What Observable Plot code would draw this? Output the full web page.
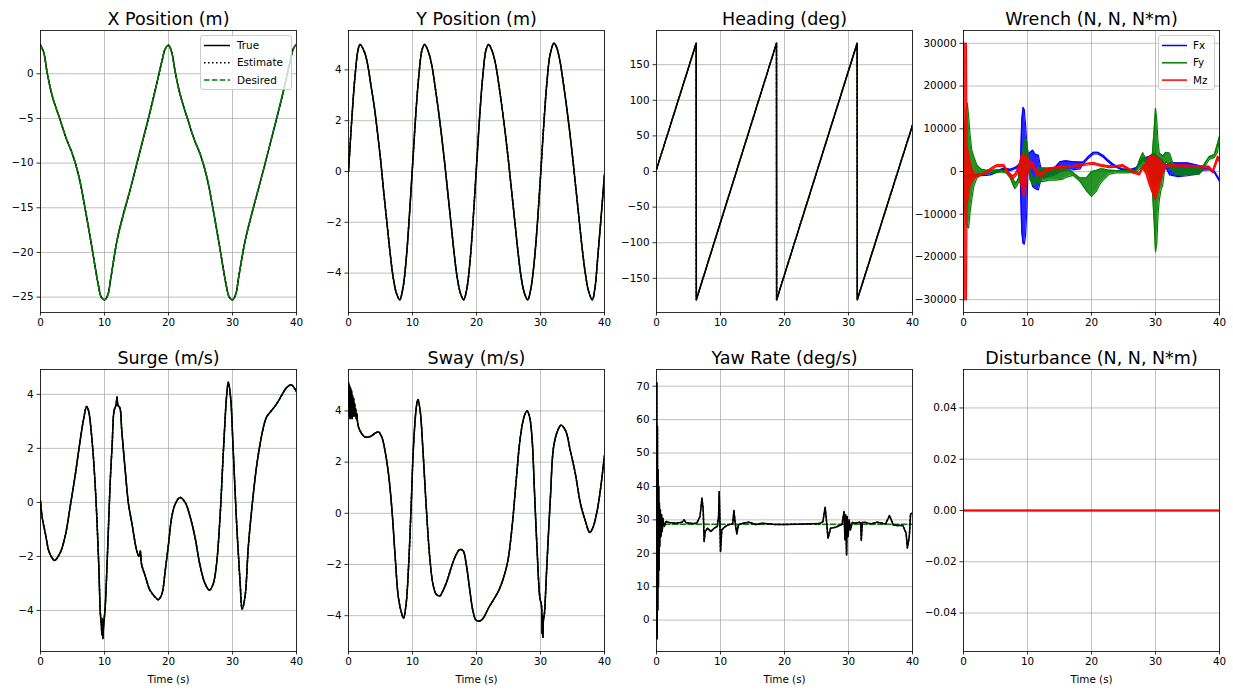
<!DOCTYPE html>
<html>
<head>
<meta charset="utf-8">
<script src="https://cdn.jsdelivr.net/npm/d3@7"></script>
<script src="https://cdn.jsdelivr.net/npm/@observablehq/plot@0.6"></script>
<style>
  html, body { margin: 0; padding: 0; background: #ffffff; }
  #wrap { position: relative; width: 1233px; height: 691px; overflow: hidden; background: #ffffff; }
  #wrap > svg { position: absolute; }
</style>
</head>
<body>
<div id="wrap"></div>
<script>
// ---------------- data ----------------
const timeTicks = [0, 10, 20, 30, 40];

// X Position (m)
const xPosT = [0,0.5,1,1.5,2,3,4,5,6,7,8,9,9.5,10,10.5,11,12,13,14,15,16,17,18,19,19.5,20,20.5,21,21.5,22,23,24,25,26,27,28,29,29.5,30,30.5,31,32,33,34,35,36,37,38,39,39.5,40];
const xPosV = [3.2,2.4,0.3,-1.5,-2.9,-5.0,-7.2,-9.0,-11.5,-15.2,-19.3,-23.5,-25.0,-25.3,-24.8,-22.8,-18.5,-15.6,-13.0,-10.2,-7.4,-4.6,-1.6,1.5,2.8,3.2,2.4,0.4,-1.4,-2.8,-5.1,-7.3,-9.1,-11.6,-15.3,-19.4,-23.6,-25.0,-25.3,-24.7,-22.6,-18.6,-15.7,-13.0,-10.3,-7.5,-4.7,-1.8,1.4,2.8,3.3];
const xPosTicks = [-25, -20, -15, -10, -5, 0];

// Y Position (m)
const yPosT = [0,0.5,1,1.5,1.8,2.5,3,3.5,4,4.5,5,5.5,6,6.5,7,7.5,8,8.5,9,9.5,10,10.5,11,11.5,11.9,12.5,13,13.5,14,14.5,15,15.5,16,16.5,17,17.5,18,18.5,19,19.5,20,20.5,21,21.5,21.9,22.5,23,23.5,24,24.5,25,25.5,26,26.5,27,27.5,28,28.5,29,29.5,30,30.5,31,31.5,32.1,32.5,33,33.5,34,34.5,35,35.5,36,36.5,37,37.5,38.1,38.5,39,39.5,40];
const yPosV = [0,2.0,3.7,4.8,5.0,4.7,4.2,3.4,2.6,1.6,0.5,-0.8,-2.0,-3.2,-4.2,-4.8,-5.05,-4.6,-3.5,-1.8,0.2,2.2,3.8,4.8,5.0,4.7,4.2,3.4,2.5,1.5,0.4,-0.8,-2.0,-3.2,-4.2,-4.8,-5.05,-4.6,-3.5,-1.8,0.2,2.2,3.8,4.8,5.0,4.7,4.2,3.4,2.5,1.5,0.4,-0.8,-2.0,-3.2,-4.2,-4.8,-5.05,-4.6,-3.6,-2.1,-0.2,1.8,3.5,4.6,5.05,4.9,4.4,3.6,2.7,1.7,0.6,-0.6,-1.8,-3.0,-4.0,-4.7,-5.05,-4.6,-3.2,-1.7,-0.1];
const yPosTicks = [-4, -2, 0, 2, 4];

// Heading (deg)
const headT = [0, 6.2, 6.22, 18.75, 18.77, 31.35, 31.37, 40];
const headV = [3, 180, -180, 180, -180, 180, -180, 65];
const headTicks = [-150, -100, -50, 0, 50, 100, 150];

// Wrench (N, N, N*m): envelopes (low / high) of the oscillating signals
const fxT  = [0,0.3,0.6,1.0,1.6,2.5,3.5,4.2,5.2,6.3,7.3,8.0,8.4,8.9,9.1,9.3,9.5,9.7,9.9,10.1,10.4,10.8,11.2,11.7,12.2,12.6,13.0,14.0,15.1,16.0,17.0,18.2,18.7,19.5,20.3,21.0,21.8,22.5,23.3,24.1,24.9,25.9,27.0,28.0,29.0,29.3,29.8,30.3,30.8,31.1,31.6,32.2,33.5,35.0,36.8,37.4,38.4,39.2,40];
const fxLo = [-1500,-1600,-1400,-1200,-1100,-1000,-900,-800,-200,500,200,600,900,-3000,-14000,-16800,-17000,-15000,-9000,2000,-1000,-3500,-4000,-4300,-1200,-1500,-1200,-1000,0,300,400,600,1800,3100,4100,4100,3400,2400,1400,800,300,0,600,2600,1500,-2000,-3500,-3000,-2000,-500,1000,-800,-1200,-1000,-500,300,400,-300,-2300];
const fxHi = [-900,-1000,-900,-800,-700,-600,-500,-400,100,800,500,900,1300,2000,12000,15000,14500,11000,6000,4000,4500,5000,4000,3800,0,800,500,500,2300,2500,2300,2200,2200,3500,4500,4500,3800,2800,1800,1100,600,400,900,3100,3500,3800,4300,3500,3000,2500,1400,2000,2000,2000,1400,700,800,100,-1900];

const fyT  = [0,0.2,0.4,0.6,0.8,1.0,1.3,1.6,2.1,2.8,3.6,4.5,5.2,6.0,6.7,7.3,7.7,8.0,8.3,8.6,9.1,9.4,9.7,9.9,10.1,10.4,10.8,11.2,11.7,12.5,13.5,14.5,15.5,16.1,17.1,18.2,19.2,20.0,20.8,21.3,21.8,22.8,24.0,25.5,27.0,27.5,28.0,28.5,29.0,29.5,29.8,30.0,30.2,30.4,30.6,30.9,31.1,31.6,32.2,32.7,33.5,35.0,36.8,37.4,38.4,39.2,39.7,40];
const fyLo = [-3000,-8000,-12000,-13000,-13200,-10000,-6500,-3500,-1500,-700,-500,-300,-200,-100,-400,-1500,-3000,-4000,-3500,-2500,-1500,-500,0,2000,1500,-2000,-3000,-3200,-2500,-2300,-2000,-2000,-1800,-1300,-900,-2300,-4500,-5800,-4500,-3000,-2000,-600,-300,-300,-200,500,1000,300,-1000,-4000,-12000,-18800,-17000,-10000,-6600,-4000,-3500,2500,1000,0,-800,-800,-700,500,2800,3300,4500,8000];
const fyHi = [3000,10000,14000,16000,13000,9000,5000,3500,1500,500,300,300,400,300,100,-700,-1500,-2500,-2500,-1500,3000,6000,7800,7000,4000,0,-1500,-1800,1000,800,800,800,700,600,-200,-1500,-1500,0,300,600,600,300,200,200,200,2700,4400,3000,2500,4000,10000,14800,12000,7000,4300,4000,3500,4500,4300,2000,1000,800,800,1200,3500,4000,6600,8300];

const mzT  = [0,0.45,0.55,0.8,1.0,1.5,2.0,2.6,3.5,4.5,5.2,6.3,7.0,7.6,8.1,8.6,9.1,9.4,9.7,9.9,10.2,10.7,11.5,12.2,13.0,15.1,17.2,18.7,20.3,21.5,22.8,24.0,24.9,26.0,26.5,27.5,28.0,28.5,29.0,29.5,30.0,30.5,31.0,31.6,32.7,35.0,38.4,38.9,39.3,39.7,40];
const mzLo = [-30000,-30000,-8000,-5000,-3500,-1800,-1200,-1000,-500,600,1200,1200,-800,-1800,-1200,0,-4000,-5800,-4000,-2000,500,1200,-800,-1200,200,800,1000,1400,1700,1200,900,1000,1200,200,-400,-800,700,-500,-3000,-5000,-6600,-4000,-1000,1000,1100,1100,800,-300,1000,2800,2300];
const mzHi = [30000,30000,6000,4000,2500,-200,-800,-700,-100,1000,1600,1600,0,-1000,-500,1200,4000,4300,3000,3500,2500,2200,200,-400,700,1200,1400,1800,2100,1600,1300,1400,1600,600,0,-300,1200,1800,3500,3500,3500,3000,2000,1500,1500,1500,1200,100,1800,3600,3000];
const wrenchTicks = [-30000, -20000, -10000, 0, 10000, 20000, 30000];

// Surge (m/s)
const surgeT = [0,0.26,0.8,1.3,1.8,2.2,3.1,3.9,4.7,5.45,6.2,6.75,7.2,7.5,8.05,8.6,9.1,9.35,9.5,9.6,9.7,9.75,9.85,10.1,10.4,10.9,11.2,11.5,11.8,11.95,12.1,12.4,12.7,13.25,13.75,14.3,15.05,15.4,15.6,15.8,16.4,17.1,17.9,18.4,18.95,19.5,20.0,20.5,21.05,21.8,22.6,23.4,24.15,24.9,25.7,26.4,27.0,27.5,28.05,28.6,29.1,29.35,29.7,30.1,30.65,31.2,31.5,31.95,32.5,33.25,33.8,34.3,34.8,35.3,36.1,36.9,37.65,38.45,39.2,40];
const surgeV = [0.05,-0.55,-1.2,-1.8,-2.05,-2.15,-1.85,-1.2,-0.06,1.05,2.3,3.1,3.55,3.4,2.3,0.4,-2.3,-4.1,-4.5,-4.9,-4.3,-5.05,-4.6,-3.9,-2.3,0.8,2.15,3.4,3.6,3.9,3.6,3.5,2.65,1.15,-0.06,-0.8,-1.8,-2.0,-1.8,-2.3,-2.75,-3.25,-3.5,-3.6,-3.4,-2.5,-1.55,-0.55,-0.06,0.18,0.0,-0.55,-1.3,-2.3,-3.0,-3.25,-3.0,-2.3,-0.55,2.0,4.0,4.45,3.9,2.0,-0.8,-3.0,-3.95,-3.5,-1.55,0.3,1.4,2.15,2.75,3.15,3.4,3.65,3.95,4.25,4.35,4.1];
const surgeTicks = [-4, -2, 0, 2, 4];

// Sway (m/s)
const swayT = [0,0.08,0.16,0.24,0.32,0.4,0.48,0.56,0.64,0.72,0.8,0.88,0.96,1.04,1.12,1.2,1.3,1.4,1.56,2.1,2.6,3.4,4.2,4.7,5.2,5.7,6.25,6.8,7.3,7.8,8.35,8.6,9.0,9.4,9.8,10.15,10.6,10.85,11.2,11.6,12.15,12.7,13.2,13.7,14.25,14.75,15.4,16.2,16.85,17.35,17.9,18.4,18.9,19.45,19.95,20.6,21.1,21.9,22.7,23.45,24.25,24.9,25.55,26.2,26.85,27.5,27.9,28.3,28.7,29.05,29.45,29.9,30.15,30.25,30.32,30.38,30.45,30.6,31.0,31.55,32.05,32.7,33.2,33.9,34.65,35.45,36.25,37.0,37.7,38.2,38.85,39.35,40];
const swayV = [5.1,3.8,5.0,3.7,4.9,3.8,4.8,3.7,4.6,3.8,4.5,3.8,4.3,3.8,4.1,3.7,3.9,3.6,3.37,3.1,2.98,3.0,3.14,3.18,2.98,2.45,1.54,0.1,-1.73,-3.3,-3.95,-4.1,-3.55,-2.0,0.37,2.6,4.15,4.45,4.0,2.6,0.24,-1.73,-2.77,-3.16,-3.23,-3.03,-2.64,-2.0,-1.6,-1.42,-1.46,-2.0,-2.9,-3.82,-4.18,-4.2,-4.08,-3.69,-3.36,-3.03,-2.5,-1.86,-0.55,1.28,2.98,3.83,4.0,3.76,2.85,0.9,-1.33,-3.3,-3.6,-4.7,-4.0,-4.85,-4.2,-3.95,-2.0,0.63,2.6,3.24,3.44,3.24,2.46,1.54,0.37,-0.29,-0.75,-0.55,0.1,0.9,2.26];
const swayTicks = [-4, -2, 0, 2, 4];

// Yaw Rate (deg/s)
const yawT = [0,0.05,0.1,0.15,0.2,0.25,0.3,0.35,0.4,0.45,0.5,0.6,0.7,0.8,0.9,1.0,1.2,1.5,2,3,4,4.3,4.6,5.5,6.3,6.8,7.1,7.3,7.45,7.6,8.0,8.5,9.0,9.5,9.7,9.8,9.9,10.0,10.2,10.6,11.2,11.9,12.1,12.3,12.55,12.8,13.5,14.5,15.5,16.5,17.5,18.5,20,22,24,25.5,26.0,26.35,26.5,26.8,27.2,28.0,29.0,29.3,29.45,29.55,29.7,29.8,29.95,30.1,30.3,30.6,31.0,31.7,31.9,32.0,32.15,32.5,33.5,34.5,35.8,36.4,37.0,37.5,38.5,39.0,39.2,39.5,39.7,40];
const yawV = [65,71,-5.6,58,3,45,10,40,15,35,22,33,25,31.5,26.5,30.5,28,29.5,29.2,29,29.3,30,29.2,28.9,29,31,36.5,33,23.5,26.5,27.5,26.5,27.5,28,31,38.5,30,20.5,27,27.8,28.5,28.8,32.8,29,25.8,28.5,29,29.3,28.6,29,28.8,28.6,28.6,28.7,28.8,28.9,29.5,33.8,31,24.5,27.5,27.8,28.7,32.5,24,31.5,19.5,31,25,30,27,29.2,29.0,29.3,29.0,23.8,29.2,29.3,28.8,29.3,28.8,31.3,28.5,28.3,28.3,26,21.6,25,31.8,32];
const yawDesT = [0, 40];
const yawDesV = [28.7, 28.7];
const yawTicks = [0, 10, 20, 30, 40, 50, 60, 70];

// Disturbance (N, N, N*m)
const distT = [0, 40];
const distFx = [0, 0];
const distFy = [0, 0];
const distMz = [0, 0];
const distTicks = [-0.04, -0.02, 0, 0.02, 0.04];

// legends
const stateLabels = ["True", "Estimate", "Desired"];
const stateColors = ["#000000", "#000000", "#008000"];
const stateDashes = ["none", "1.5,2.5", "5.5,2.4"];
const wrenchLabels = ["Fx", "Fy", "Mz"];
const wrenchColors = ["#0000ff", "#008000", "#ff0000"];

// ---------------- drawing ----------------
const W = 256, H = 282, ML = 40, MR = 12, MT = 30;
const minus = d => String(d).replace("-", "\u2212");
const fmt2 = d => d.toFixed(2).replace("-", "\u2212");
const wrap = document.getElementById("wrap");
const DASH = "5.5,2.4", DOT = "1.5,2.5";

function lineMark(T, V, stroke, dash, curve, width) {
  return Plot.line(T, {x: T, y: V, stroke, strokeWidth: width || 1.5,
    strokeDasharray: dash || null, curve: curve || "linear", clip: true});
}
function stateMarks(T, V, curve, desiredOnTop, desT, desV) {
  const dT = desT || T, dV = desV || V;
  const tru = lineMark(T, V, "#000000", null, curve);
  const est = lineMark(T, V, "#000000", DOT, curve);
  const des = lineMark(dT, dV, "#008000", DASH, desT ? "linear" : curve);
  return desiredOnTop ? [tru, est, des] : [des, tru, est];
}
function bandMarks(T, lo, hi, color) {
  return [
    Plot.areaY(T, {x: T, y1: lo, y2: hi, fill: color, fillOpacity: 0.85, clip: true}),
    lineMark(T, lo, color, null, "linear", 1.2),
    lineMark(T, hi, color, null, "linear", 1.2)
  ];
}

function panel(o) {
  const mb = o.xLabel ? 40 : 22;
  const svg = Plot.plot({
    width: ML + W + MR, height: MT + H + mb,
    marginLeft: ML, marginRight: MR, marginTop: MT, marginBottom: mb,
    style: {fontFamily: "'DejaVu Sans', sans-serif", fontSize: "10.4px", background: "transparent", color: "#000000", overflow: "visible"},
    x: {domain: [0, 40], axis: null},
    y: {domain: o.yDomain, axis: null},
    marks: [
      Plot.gridX(timeTicks, {stroke: "#b0b0b0", strokeOpacity: 1, strokeWidth: 0.8}),
      Plot.gridY(o.yTicks, {stroke: "#b0b0b0", strokeOpacity: 1, strokeWidth: 0.8}),
      ...o.marks,
      Plot.frame({stroke: "#000000", strokeWidth: 0.8}),
      Plot.axisX(timeTicks, {tickSize: 3.5, tickPadding: 3, strokeWidth: 0.8, tickFormat: minus, label: null}),
      Plot.axisY(o.yTicks, {tickSize: 3.5, tickPadding: 3.5, strokeWidth: 0.8, tickFormat: o.yFormat || minus, label: null}),
      Plot.text([o.title], {text: d => d, frameAnchor: "top", dy: -6, lineAnchor: "bottom", fontSize: 17.5, fill: "#000000"}),
      o.xLabel ? Plot.text([o.xLabel], {text: d => d, frameAnchor: "bottom", dy: 28, lineAnchor: "middle", fill: "#000000"}) : null
    ].filter(Boolean)
  });
  svg.style.left = (o.left - ML) + "px";
  svg.style.top = o.top + "px";
  wrap.appendChild(svg);
}

const TOP1 = 0, TOP2 = 339;
panel({left: 40, top: TOP1, title: "X Position (m)", yDomain: [-26.72, 4.84], yTicks: xPosTicks,
  marks: stateMarks(xPosT, xPosV, "catmull-rom", true)});
panel({left: 348, top: TOP1, title: "Y Position (m)", yDomain: [-5.55, 5.55], yTicks: yPosTicks,
  marks: stateMarks(yPosT, yPosV, "catmull-rom", false)});
panel({left: 656, top: TOP1, title: "Heading (deg)", yDomain: [-198, 198], yTicks: headTicks,
  marks: stateMarks(headT, headV, "linear", false)});
panel({left: 963, top: TOP1, title: "Wrench (N, N, N*m)", yDomain: [-33000, 33000], yTicks: wrenchTicks,
  marks: [...bandMarks(fxT, fxLo, fxHi, "#0000ff"), ...bandMarks(fyT, fyLo, fyHi, "#008000"), ...bandMarks(mzT, mzLo, mzHi, "#ff0000")]});

panel({left: 40, top: TOP2, title: "Surge (m/s)", yDomain: [-5.52, 4.92], yTicks: surgeTicks, xLabel: "Time (s)",
  marks: stateMarks(surgeT, surgeV, "catmull-rom", false)});
panel({left: 348, top: TOP2, title: "Sway (m/s)", yDomain: [-5.4, 5.62], yTicks: swayTicks, xLabel: "Time (s)",
  marks: stateMarks(swayT, swayV, "catmull-rom", false)});
panel({left: 656, top: TOP2, title: "Yaw Rate (deg/s)", yDomain: [-9.4, 75.0], yTicks: yawTicks, xLabel: "Time (s)",
  marks: stateMarks(yawT, yawV, "linear", false, yawDesT, yawDesV)});
panel({left: 963, top: TOP2, title: "Disturbance (N, N, N*m)", yDomain: [-0.055, 0.055], yTicks: distTicks, yFormat: fmt2, xLabel: "Time (s)",
  marks: [lineMark(distT, distFx, "#0000ff"), lineMark(distT, distFy, "#008000"), lineMark(distT, distMz, "#ff0000")]});

// ---------------- legends (overlay) ----------------
const ov = d3.create("svg").attr("width", 1233).attr("height", 691)
  .style("left", "0px").style("top", "0px").style("pointer-events", "none")
  .style("font-family", "'DejaVu Sans', sans-serif").style("font-size", "10.4px");
function legend(bx, by, bw, bh, lx0, lx1, tx, labels, colors, dashes) {
  ov.append("rect").attr("x", bx).attr("y", by).attr("width", bw).attr("height", bh)
    .attr("rx", 2.5).attr("fill", "#ffffff").attr("fill-opacity", 0.8)
    .attr("stroke", "#cccccc").attr("stroke-width", 1);
  labels.forEach((lab, i) => {
    const y = by + 10 + i * 17.3;
    ov.append("line").attr("x1", lx0).attr("x2", lx1).attr("y1", y).attr("y2", y)
      .attr("stroke", colors[i]).attr("stroke-width", 1.5)
      .attr("stroke-dasharray", dashes ? dashes[i] : "none");
    ov.append("text").attr("x", tx).attr("y", y).attr("dy", "0.35em").attr("fill", "#000000").text(lab);
  });
}
legend(200.5, 35.5, 91, 54, 204, 230, 237, stateLabels, stateColors, stateDashes);
legend(1158.5, 35.5, 56, 54, 1162, 1187, 1193, wrenchLabels, wrenchColors, null);
wrap.appendChild(ov.node());
</script>
</body>
</html>
